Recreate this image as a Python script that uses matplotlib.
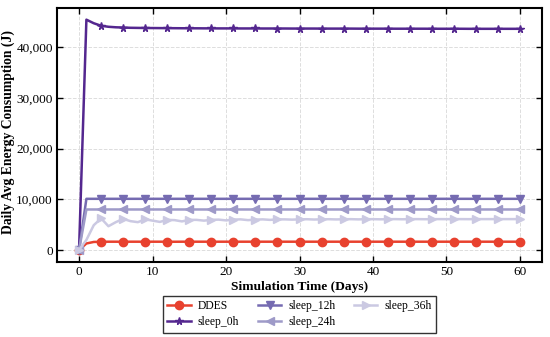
import matplotlib
matplotlib.use("Agg")
import matplotlib.pyplot as plt
from matplotlib.ticker import FuncFormatter

plt.rcParams['font.family'] = ['Liberation Serif', 'DejaVu Serif']

days = list(range(61))

ddes = [0, 1300, 1600, 1640, 1650, 1650, 1640, 1650, 1650, 1640, 1650, 1650, 1650, 1640, 1650,
        1650, 1650, 1650, 1650, 1650, 1650, 1650, 1650, 1650, 1650, 1650, 1650, 1650, 1650, 1650,
        1650, 1650, 1650, 1650, 1650, 1650, 1650, 1650, 1650, 1650, 1650, 1650, 1650, 1650, 1650,
        1650, 1650, 1650, 1650, 1650, 1650, 1650, 1650, 1650, 1650, 1650, 1650, 1650, 1650, 1650, 1650]

sleep_0h = [0, 45400, 44700, 44200, 44000, 43900, 43850, 43800, 43780, 43760, 43750, 43740, 43730, 43720, 43710,
            43700, 43700, 43690, 43690, 43680, 43680, 43680, 43670, 43670, 43670, 43660, 43660, 43660, 43660, 43650,
            43650, 43650, 43650, 43640, 43640, 43640, 43640, 43640, 43630, 43630, 43630, 43630, 43630, 43620, 43620,
            43620, 43620, 43620, 43610, 43610, 43610, 43610, 43610, 43600, 43600, 43600, 43600, 43600, 43600, 43600, 43600]

sleep_12h = [0, 10100, 10100, 10100, 10100, 10100, 10100, 10100, 10100, 10100, 10100, 10100, 10100, 10100, 10100,
             10100, 10100, 10100, 10100, 10100, 10100, 10100, 10100, 10100, 10100, 10100, 10100, 10100, 10100, 10100,
             10100, 10100, 10100, 10100, 10100, 10100, 10100, 10100, 10100, 10100, 10100, 10100, 10100, 10100, 10100,
             10100, 10100, 10100, 10100, 10100, 10100, 10100, 10100, 10100, 10100, 10100, 10100, 10100, 10100, 10100, 10100]

sleep_24h = [0, 8000, 8000, 8000, 8000, 8000, 8000, 8000, 8000, 8000, 8000, 8000, 8000, 8000, 8000,
             8000, 8000, 8000, 8000, 8000, 8000, 8000, 8000, 8000, 8000, 8000, 8000, 8000, 8000, 8000,
             8000, 8000, 8000, 8000, 8000, 8000, 8000, 8000, 8000, 8000, 8000, 8000, 8000, 8000, 8000,
             8000, 8000, 8000, 8000, 8000, 8000, 8000, 8000, 8000, 8000, 8000, 8000, 8000, 8000, 8000, 8000]

sleep_36h = [0, 2000, 4900, 6250, 4700, 5500, 6150, 5700, 5500, 6050, 5800, 5550, 5950, 5900, 5650,
             5950, 5950, 5800, 5950, 6000, 5850, 6000, 6050, 5900, 6000, 6050, 5950, 6050, 6050, 6000,
             6050, 6080, 6020, 6060, 6080, 6040, 6070, 6090, 6050, 6080, 6090, 6060, 6080, 6100, 6070,
             6090, 6100, 6080, 6090, 6100, 6090, 6100, 6100, 6090, 6100, 6100, 6100, 6100, 6100, 6100, 6100]

series = [
    ("DDES", ddes, "#e8412e", "o"),
    ("sleep_0h", sleep_0h, "#54278f", "*"),
    ("sleep_12h", sleep_12h, "#756bb1", "v"),
    ("sleep_24h", sleep_24h, "#9e9ac8", "<"),
    ("sleep_36h", sleep_36h, "#cbc9e2", ">"),
]

fig = plt.figure(figsize=(5.5, 3.37), dpi=100)
ax = fig.add_axes([57/550, 1-262/337, (542-57)/550, (262-8)/337])

for name, vals, col, mk in series:
    ax.plot(days, vals, color=col, marker=mk, markevery=3, lw=1.8,
            ms=6 if mk != "*" else 5.5, label=name)

ax.set_xlim(-3, 63)
ax.set_ylim(-2350, 47700)
ax.set_xticks([0, 10, 20, 30, 40, 50, 60])
ax.set_yticks([0, 10000, 20000, 30000, 40000])
ax.yaxis.set_major_formatter(FuncFormatter(lambda v, p: f"{int(v):,}"))
ax.tick_params(direction='in', top=True, right=True, labelsize=9.5, length=4, width=1, pad=3)
ax.grid(True, ls='--', color='#dddddd', lw=0.7)
for s in ax.spines.values():
    s.set_linewidth(1.5)

ax.set_xlabel("Simulation Time (Days)", fontsize=9.7, fontweight='bold', labelpad=2)
ax.set_ylabel("Daily Avg Energy Consumption (J)", fontsize=9.8, fontweight='bold')
ax.yaxis.set_label_coords(-0.087, 0.51)

leg = ax.legend(loc='upper center', bbox_to_anchor=(0.5, -0.112), ncol=3, fontsize=8.4,
                frameon=True, fancybox=False, edgecolor='black', handlelength=2.0,
                columnspacing=1.6, borderpad=0.35, labelspacing=0.35, handletextpad=0.6)
leg.get_frame().set_linewidth(1.0)

fig.savefig("out.png", dpi=100)
